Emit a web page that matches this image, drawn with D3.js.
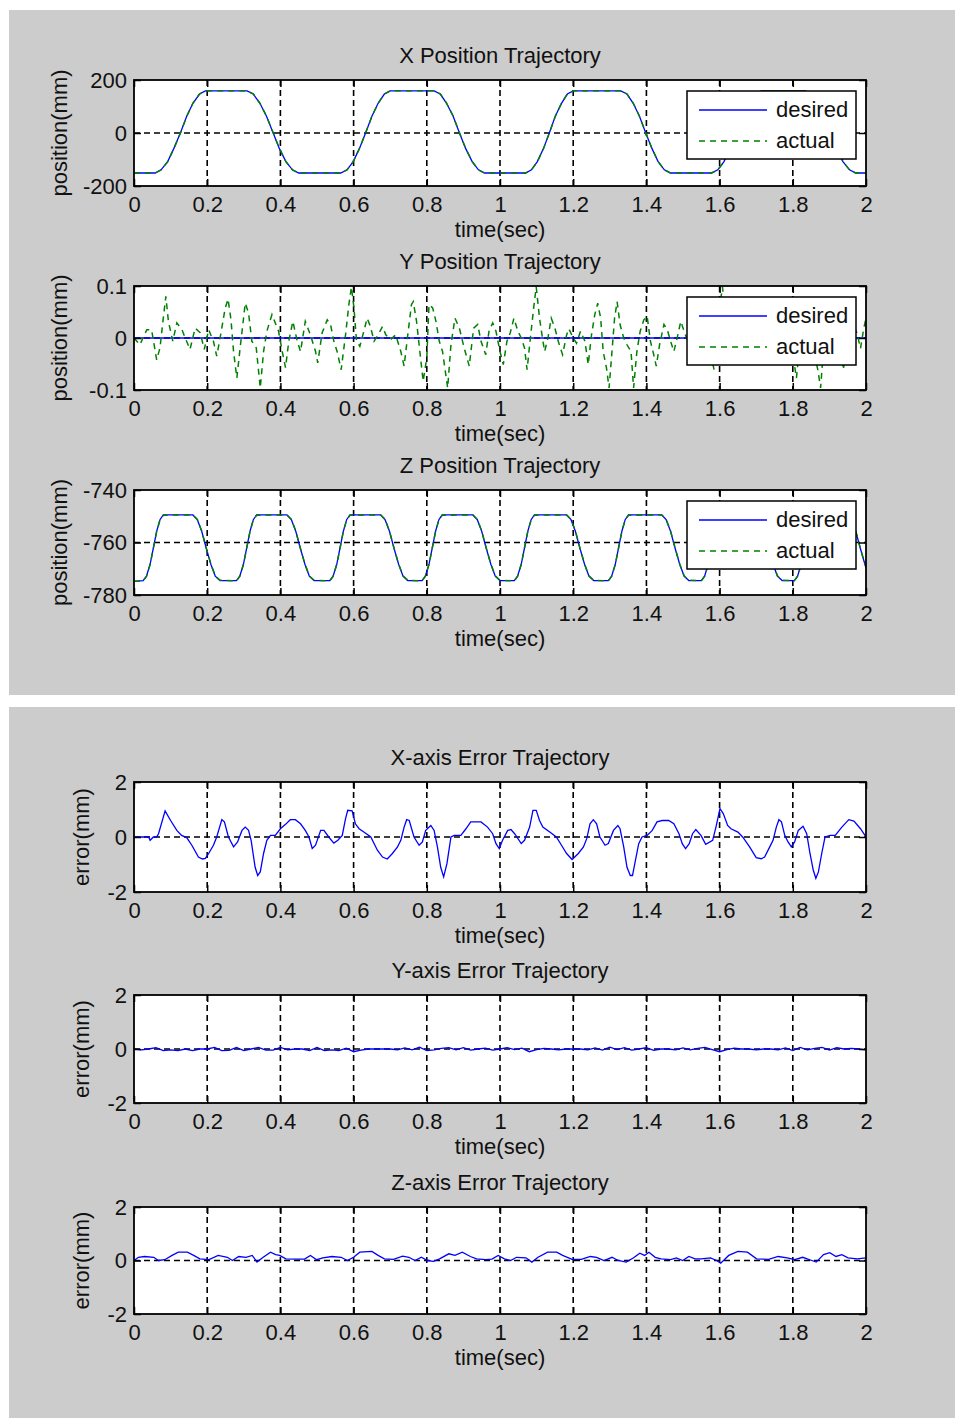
<!DOCTYPE html>
<html>
<head>
<meta charset="utf-8">
<script src="https://cdn.jsdelivr.net/npm/d3@7"></script>
<style>
  html, body { margin: 0; padding: 0; background: #ffffff; }
  svg { display: block; }
  text { font-family: "Liberation Sans", Arial, Helvetica, sans-serif; fill: #111; }
</style>
</head>
<body>
<svg id="chart" width="963" height="1427"></svg>
<script>
// ---------------- DATA ----------------
const xTickValues = [0, 0.2, 0.4, 0.6, 0.8, 1, 1.2, 1.4, 1.6, 1.8, 2];
const xTickLabels = ["0", "0.2", "0.4", "0.6", "0.8", "1", "1.2", "1.4", "1.6", "1.8", "2"];

const posXTicks = [-200, 0, 200];
const posXTickLabels = ["-200", "0", "200"];
const posYTicks = [-0.1, 0, 0.1];
const posYTickLabels = ["-0.1", "0", "0.1"];
const posZTicks = [-780, -760, -740];
const posZTickLabels = ["-780", "-760", "-740"];
const errTicks = [-2, 0, 2];
const errTickLabels = ["-2", "0", "2"];

const legendLabels = ["desired", "actual"];

// X position trajectory (time in s, value in mm)
const xPosTime = [0, 0.058, 0.074, 0.092, 0.109, 0.127, 0.144, 0.161, 0.179, 0.195,
  0.309, 0.326, 0.344, 0.362, 0.380, 0.397, 0.415, 0.433, 0.450,
  0.565, 0.582, 0.599, 0.616, 0.633, 0.650, 0.667, 0.684, 0.700,
  0.820, 0.837, 0.854, 0.872, 0.889, 0.906, 0.924, 0.941, 0.958,
  1.070, 1.086, 1.102, 1.119, 1.135, 1.151, 1.168, 1.184, 1.200,
  1.330, 1.347, 1.364, 1.381, 1.398, 1.415, 1.432, 1.449, 1.466,
  1.578, 1.595, 1.612, 1.629, 1.647, 1.664, 1.681, 1.698, 1.715,
  1.833, 1.850, 1.868, 1.885, 1.903, 1.920, 1.937, 1.955, 1.972, 2.0];
const xPosDesired = [-151, -151, -139, -108, -58, 1, 63, 112, 147, 159,
  159, 147, 112, 63, 1, -58, -108, -139, -151,
  -151, -139, -108, -58, 1, 63, 112, 147, 159,
  159, 147, 112, 63, 1, -58, -108, -139, -151,
  -151, -139, -108, -58, 1, 63, 112, 147, 159,
  159, 147, 112, 63, 1, -58, -108, -139, -151,
  -151, -139, -108, -58, 1, 63, 112, 147, 159,
  159, 147, 112, 63, 1, -58, -108, -139, -151, -151];
const xPosActual = [-151, -151, -139.2, -108.5, -58.6, 0.4, 62.5, 112.3, 147.2, 159,
  159, 147.3, 112.4, 63.5, 1.6, -57.3, -107.6, -139.2, -151,
  -151, -139.1, -108.4, -58.5, 0.6, 62.6, 112.2, 147.1, 159,
  159, 147.2, 112.5, 63.6, 1.5, -57.5, -107.7, -139.1, -151,
  -151, -139.2, -108.6, -58.7, 0.5, 62.4, 112.1, 147.2, 159,
  159, 147.3, 112.6, 63.5, 1.4, -57.4, -107.6, -139.2, -151,
  -151, -139.1, -108.5, -58.6, 0.5, 62.5, 112.3, 147.1, 159,
  159, 147.2, 112.4, 63.4, 1.5, -57.5, -107.7, -139.1, -151, -151];

// Y position trajectory
const yPosDesiredTime = [0, 2];
const yPosDesired = [0, 0];
const yPosActualTime = [0.000, 0.016, 0.035, 0.048, 0.062, 0.071, 0.079, 0.087, 0.094, 0.106,
  0.117, 0.131, 0.140, 0.153, 0.167, 0.181, 0.192, 0.204, 0.217, 0.226,
  0.236, 0.249, 0.257, 0.265, 0.272, 0.281, 0.290, 0.304, 0.313, 0.322,
  0.334, 0.345, 0.354, 0.363, 0.377, 0.386, 0.395, 0.405, 0.414, 0.423,
  0.434, 0.446, 0.455, 0.468, 0.482, 0.496, 0.502, 0.514, 0.528, 0.537,
  0.546, 0.555, 0.566, 0.578, 0.587, 0.594, 0.601, 0.608, 0.617, 0.628,
  0.637, 0.646, 0.656, 0.667, 0.679, 0.688, 0.701, 0.715, 0.729, 0.738,
  0.747, 0.758, 0.763, 0.772, 0.781, 0.790, 0.800, 0.806, 0.816, 0.825,
  0.834, 0.843, 0.857, 0.866, 0.877, 0.889, 0.902, 0.916, 0.928, 0.939,
  0.948, 0.961, 0.970, 0.980, 0.989, 1.000, 1.009, 1.019, 1.028, 1.038,
  1.049, 1.058, 1.067, 1.074, 1.083, 1.093, 1.099, 1.108, 1.116, 1.122,
  1.131, 1.140, 1.150, 1.159, 1.171, 1.182, 1.188, 1.200, 1.209, 1.220,
  1.232, 1.241, 1.250, 1.259, 1.267, 1.275, 1.282, 1.291, 1.298, 1.306,
  1.313, 1.320, 1.328, 1.338, 1.347, 1.358, 1.365, 1.374, 1.383, 1.393,
  1.402, 1.411, 1.420, 1.427, 1.436, 1.448, 1.457, 1.466, 1.475, 1.484,
  1.494, 1.503, 1.515, 1.528, 1.540, 1.552, 1.563, 1.575, 1.585, 1.594,
  1.602, 1.608, 1.616, 1.626, 1.638, 1.650, 1.662, 1.675, 1.688, 1.700,
  1.712, 1.724, 1.736, 1.748, 1.760, 1.772, 1.783, 1.795, 1.803, 1.810,
  1.818, 1.828, 1.838, 1.848, 1.858, 1.868, 1.876, 1.885, 1.895, 1.905,
  1.915, 1.925, 1.939, 1.950, 1.962, 1.975, 1.985, 1.994, 2.000];
const yPosActual = [0.000, -0.013, 0.016, 0.016, -0.042, -0.019, 0.032, 0.080, 0.032, -0.006,
  0.029, 0.016, 0.000, -0.022, 0.019, 0.010, -0.022, 0.016, -0.006, -0.035,
  0.003, 0.057, 0.075, 0.035, -0.026, -0.077, -0.019, 0.067, 0.048, -0.006,
  -0.019, -0.096, -0.026, 0.013, 0.045, 0.029, 0.013, -0.026, -0.057, -0.006,
  0.032, -0.006, -0.026, 0.032, 0.006, -0.026, -0.048, 0.010, 0.035, 0.026,
  -0.006, -0.026, -0.061, 0.006, 0.064, 0.098, 0.058, -0.006, -0.016, 0.013,
  0.038, 0.022, -0.006, 0.006, 0.022, 0.006, -0.003, 0.006, -0.026, -0.054,
  0.000, 0.064, 0.070, 0.032, -0.026, -0.083, -0.038, 0.064, 0.058, 0.032,
  -0.006, -0.026, -0.096, -0.013, 0.038, 0.019, -0.019, -0.054, 0.019, 0.026,
  -0.006, -0.032, 0.013, 0.029, 0.013, -0.026, -0.051, -0.006, 0.010, 0.038,
  0.013, 0.000, -0.019, -0.061, 0.000, 0.064, 0.098, 0.038, 0.000, -0.026,
  0.000, 0.038, 0.019, -0.006, -0.032, 0.006, 0.018, 0.000, -0.010, 0.013,
  -0.006, -0.051, 0.006, 0.045, 0.067, 0.038, -0.026, -0.058, -0.096, -0.026,
  0.038, 0.070, 0.026, 0.000, -0.013, -0.026, -0.096, -0.026, 0.013, 0.035,
  0.042, -0.006, -0.032, -0.054, -0.013, 0.026, 0.016, -0.006, -0.026, 0.000,
  0.032, 0.013, -0.010, 0.025, -0.020, 0.030, 0.010, -0.030, -0.061, 0.010,
  0.070, 0.098, 0.030, -0.020, 0.020, -0.030, 0.030, 0.000, -0.035, 0.025,
  0.040, -0.010, -0.040, 0.020, 0.050, 0.010, -0.030, 0.000, -0.045, -0.077,
  -0.020, 0.040, 0.050, 0.010, -0.030, -0.060, -0.096, -0.010, 0.040, 0.060,
  0.020, -0.030, -0.057, 0.000, 0.030, 0.010, -0.020, 0.019, 0.038];

// Z position trajectory
const zPosTime = [0,
  0.025, 0.034, 0.044, 0.053, 0.062, 0.071, 0.080,
  0.161, 0.173, 0.185, 0.197, 0.210, 0.222, 0.235,
  0.280, 0.289, 0.299, 0.308, 0.317, 0.326, 0.335,
  0.418, 0.430, 0.442, 0.454, 0.467, 0.479, 0.492,
  0.535, 0.544, 0.554, 0.563, 0.572, 0.581, 0.590,
  0.674, 0.686, 0.698, 0.710, 0.723, 0.735, 0.748,
  0.787, 0.796, 0.806, 0.815, 0.824, 0.833, 0.842,
  0.926, 0.938, 0.950, 0.962, 0.975, 0.987, 1.000,
  1.039, 1.048, 1.058, 1.067, 1.076, 1.085, 1.094,
  1.182, 1.194, 1.206, 1.218, 1.231, 1.243, 1.256,
  1.296, 1.305, 1.315, 1.324, 1.333, 1.342, 1.351,
  1.442, 1.454, 1.466, 1.478, 1.491, 1.503, 1.516,
  1.550, 1.559, 1.569, 1.578, 1.587, 1.596, 1.605,
  1.697, 1.709, 1.721, 1.733, 1.746, 1.758, 1.771,
  1.804, 1.813, 1.823, 1.832, 1.841, 1.850, 1.859,
  1.948, 1.960, 1.972, 1.984, 1.997, 2.000];
const zPosDesired = [-774.8,
  -774.5, -772.8, -768.3, -762, -755.7, -751.3, -749.5,
  -749.5, -751.3, -755.7, -762, -768.3, -772.8, -774.5,
  -774.5, -772.8, -768.3, -762, -755.7, -751.3, -749.5,
  -749.5, -751.3, -755.7, -762, -768.3, -772.8, -774.5,
  -774.5, -772.8, -768.3, -762, -755.7, -751.3, -749.5,
  -749.5, -751.3, -755.7, -762, -768.3, -772.8, -774.5,
  -774.5, -772.8, -768.3, -762, -755.7, -751.3, -749.5,
  -749.5, -751.3, -755.7, -762, -768.3, -772.8, -774.5,
  -774.5, -772.8, -768.3, -762, -755.7, -751.3, -749.5,
  -749.5, -751.3, -755.7, -762, -768.3, -772.8, -774.5,
  -774.5, -772.8, -768.3, -762, -755.7, -751.3, -749.5,
  -749.5, -751.3, -755.7, -762, -768.3, -772.8, -774.5,
  -774.5, -772.8, -768.3, -762, -755.7, -751.3, -749.5,
  -749.5, -751.3, -755.7, -762, -768.3, -772.8, -774.5,
  -774.5, -772.8, -768.3, -762, -755.7, -751.3, -749.5,
  -749.5, -751.3, -755.7, -762, -768.3, -769.5];
const zPosActual = [-774.8,
  -774.6, -772.9, -768.4, -762.1, -755.8, -751.4, -749.6,
  -749.5, -751.2, -755.6, -761.9, -768.2, -772.7, -774.4,
  -774.6, -772.9, -768.4, -762.1, -755.8, -751.4, -749.6,
  -749.5, -751.2, -755.6, -761.9, -768.2, -772.7, -774.4,
  -774.6, -772.9, -768.4, -762.1, -755.8, -751.4, -749.6,
  -749.5, -751.2, -755.6, -761.9, -768.2, -772.7, -774.4,
  -774.6, -772.9, -768.4, -762.1, -755.8, -751.4, -749.6,
  -749.5, -751.2, -755.6, -761.9, -768.2, -772.7, -774.4,
  -774.6, -772.9, -768.4, -762.1, -755.8, -751.4, -749.6,
  -749.5, -751.2, -755.6, -761.9, -768.2, -772.7, -774.4,
  -774.6, -772.9, -768.4, -762.1, -755.8, -751.4, -749.6,
  -749.5, -751.2, -755.6, -761.9, -768.2, -772.7, -774.4,
  -774.6, -772.9, -768.4, -762.1, -755.8, -751.4, -749.6,
  -749.5, -751.2, -755.6, -761.9, -768.2, -772.7, -774.4,
  -774.6, -772.9, -768.4, -762.1, -755.8, -751.4, -749.6,
  -749.5, -751.2, -755.6, -761.9, -768.2, -769.4];

// X-axis error trajectory
const xErrTime = [0.000, 0.040, 0.044, 0.053, 0.062, 0.067, 0.085, 0.100, 0.117, 0.130,
  0.144, 0.158, 0.176, 0.187, 0.195, 0.204, 0.217, 0.226, 0.240, 0.247,
  0.258, 0.272, 0.283, 0.295, 0.304, 0.313, 0.320, 0.331, 0.338, 0.345,
  0.354, 0.363, 0.373, 0.386, 0.400, 0.414, 0.427, 0.441, 0.455, 0.468,
  0.478, 0.487, 0.496, 0.510, 0.519, 0.532, 0.546, 0.557, 0.569, 0.578,
  0.584, 0.596, 0.605, 0.615, 0.628, 0.647, 0.665, 0.679, 0.692, 0.706,
  0.720, 0.729, 0.738, 0.745, 0.752, 0.765, 0.779, 0.788, 0.797, 0.811,
  0.820, 0.829, 0.838, 0.846, 0.855, 0.866, 0.875, 0.893, 0.907, 0.920,
  0.948, 0.966, 0.980, 0.989, 0.998, 1.007, 1.021, 1.030, 1.040, 1.058,
  1.067, 1.081, 1.090, 1.099, 1.108, 1.117, 1.136, 1.154, 1.168, 1.182,
  1.197, 1.214, 1.228, 1.237, 1.246, 1.255, 1.264, 1.273, 1.287, 1.296,
  1.310, 1.322, 1.328, 1.338, 1.347, 1.356, 1.362, 1.370, 1.379, 1.388,
  1.402, 1.416, 1.429, 1.443, 1.461, 1.475, 1.489, 1.498, 1.507, 1.517,
  1.526, 1.535, 1.549, 1.562, 1.581, 1.590, 1.601, 1.610, 1.622, 1.631,
  1.650, 1.663, 1.682, 1.700, 1.714, 1.723, 1.737, 1.746, 1.755, 1.762,
  1.769, 1.778, 1.787, 1.796, 1.805, 1.815, 1.828, 1.838, 1.847, 1.856,
  1.863, 1.870, 1.879, 1.888, 1.902, 1.916, 1.934, 1.953, 1.967, 1.985,
  2.000];
const xErrValue = [0.00, 0.00, -0.12, 0.00, 0.00, 0.12, 0.95, 0.60, 0.24, 0.06,
  -0.02, -0.30, -0.73, -0.80, -0.78, -0.60, -0.30, 0.00, 0.63, 0.55,
  0.00, -0.36, -0.18, 0.24, 0.36, 0.24, -0.12, -1.10, -1.40, -1.27,
  -0.60, -0.12, 0.06, 0.06, 0.30, 0.46, 0.63, 0.63, 0.48, 0.24,
  0.00, -0.42, -0.30, 0.24, 0.24, 0.00, -0.22, -0.12, 0.06, 0.67,
  0.97, 0.95, 0.48, 0.30, 0.18, 0.00, -0.48, -0.73, -0.80, -0.60,
  -0.36, -0.12, 0.36, 0.63, 0.60, 0.00, -0.30, -0.18, 0.24, 0.42,
  0.24, -0.36, -1.10, -1.45, -0.97, 0.00, 0.06, 0.06, 0.30, 0.55,
  0.55, 0.36, 0.12, -0.24, -0.42, -0.12, 0.24, 0.27, 0.12, -0.24,
  -0.12, 0.36, 0.97, 0.97, 0.60, 0.36, 0.18, 0.00, -0.30, -0.60,
  -0.82, -0.60, -0.36, -0.06, 0.48, 0.63, 0.48, 0.00, -0.30, -0.24,
  0.24, 0.42, 0.30, -0.36, -1.10, -1.40, -1.40, -0.85, -0.24, 0.00,
  0.06, 0.24, 0.55, 0.60, 0.60, 0.48, 0.12, -0.24, -0.42, -0.24,
  0.12, 0.27, 0.06, -0.27, -0.12, 0.36, 1.03, 0.85, 0.42, 0.30,
  0.18, 0.00, -0.36, -0.75, -0.79, -0.73, -0.36, -0.12, 0.36, 0.63,
  0.55, 0.06, -0.18, -0.36, -0.18, 0.24, 0.39, 0.12, -0.60, -1.21,
  -1.50, -1.27, -0.60, 0.00, 0.06, 0.06, 0.36, 0.63, 0.58, 0.30,
  0.00];

// Y-axis error trajectory (every 0.02 s)
const yErrTime = d3.range(0, 101).map(i => +(i * 0.02).toFixed(2));
const yErrValue = [0.00, -0.03, 0.00, 0.05, -0.06, -0.03, -0.06, 0.00, -0.06, 0.00,
  0.00, 0.06, -0.06, -0.05, 0.06, -0.06, 0.00, 0.06, -0.04, -0.04,
  0.06, -0.03, 0.00, 0.00, -0.06, 0.06, -0.06, -0.03, -0.06, 0.03,
  -0.10, -0.04, 0.00, 0.00, 0.00, 0.00, -0.03, 0.04, -0.03, 0.07,
  -0.06, -0.03, 0.02, 0.05, -0.03, 0.05, -0.04, 0.00, 0.03, -0.04,
  0.00, 0.05, -0.02, 0.03, -0.10, -0.02, 0.02, 0.00, -0.03, 0.00,
  0.00, 0.00, -0.03, 0.04, -0.04, 0.07, -0.02, 0.05, -0.04, 0.00,
  0.05, -0.05, 0.00, 0.00, -0.03, 0.04, -0.03, 0.02, 0.06, -0.02,
  -0.10, -0.02, 0.03, 0.00, 0.00, -0.03, 0.00, 0.00, -0.03, 0.04,
  -0.06, 0.06, -0.03, 0.02, 0.06, -0.04, 0.05, 0.00, 0.02, 0.00,
  -0.03];

// Z-axis error trajectory
const zErrTime = [0.000, 0.012, 0.029, 0.054, 0.067, 0.084, 0.104, 0.121, 0.146, 0.163,
  0.180, 0.205, 0.230, 0.255, 0.269, 0.286, 0.306, 0.323, 0.336, 0.353,
  0.373, 0.387, 0.398, 0.415, 0.440, 0.466, 0.482, 0.499, 0.516, 0.541,
  0.566, 0.583, 0.600, 0.617, 0.650, 0.667, 0.684, 0.709, 0.734, 0.751,
  0.768, 0.785, 0.802, 0.818, 0.835, 0.860, 0.877, 0.897, 0.919, 0.936,
  0.961, 0.978, 0.995, 1.012, 1.029, 1.045, 1.071, 1.087, 1.104, 1.130,
  1.155, 1.171, 1.197, 1.222, 1.247, 1.264, 1.284, 1.306, 1.323, 1.345,
  1.365, 1.382, 1.395, 1.407, 1.424, 1.440, 1.466, 1.482, 1.499, 1.516,
  1.533, 1.550, 1.575, 1.592, 1.603, 1.625, 1.650, 1.676, 1.701, 1.734,
  1.760, 1.785, 1.805, 1.827, 1.852, 1.864, 1.884, 1.901, 1.918, 1.934,
  1.951, 1.976, 2.000];
const zErrValue = [0.00, 0.12, 0.15, 0.12, 0.00, 0.03, 0.19, 0.31, 0.31, 0.19,
  0.06, 0.03, 0.19, 0.12, 0.00, 0.15, 0.12, 0.19, -0.06, 0.12,
  0.31, 0.22, 0.19, 0.06, 0.05, 0.05, 0.19, 0.03, 0.10, 0.15,
  0.12, 0.00, 0.12, 0.31, 0.34, 0.19, 0.06, 0.04, 0.16, 0.12,
  0.00, 0.12, 0.00, -0.03, 0.06, 0.25, 0.19, 0.31, 0.15, 0.06,
  0.03, 0.05, 0.19, 0.06, 0.00, 0.12, 0.10, -0.06, 0.12, 0.31,
  0.31, 0.19, 0.04, 0.04, 0.15, 0.12, 0.00, 0.12, 0.00, -0.06,
  0.10, 0.27, 0.19, 0.31, 0.12, 0.06, 0.03, 0.10, 0.00, 0.15,
  0.06, 0.06, 0.10, 0.00, -0.10, 0.19, 0.34, 0.31, 0.06, 0.04,
  0.15, 0.10, 0.03, 0.12, 0.00, -0.06, 0.22, 0.29, 0.15, 0.22,
  0.10, 0.06, 0.10];

// ---------------- DRAWING ----------------
const svg = d3.select("#chart");
const FONT = 22;
const BLUE = "#0000ff";
const GREEN = "#008000";
const AX_L = 134, AX_R = 866;

// figure backgrounds
svg.append("rect").attr("x", 9).attr("y", 10).attr("width", 946).attr("height", 685).attr("fill", "#cccccc");
svg.append("rect").attr("x", 9).attr("y", 707).attr("width", 946).attr("height", 711).attr("fill", "#cccccc");

const zip = (t, v) => t.map((d, i) => [d, v[i]]);

const panels = [
  { top: 80, bottom: 186, title: "X Position Trajectory", ylabel: "position(mm)", ylx: 67,
    domain: [-200, 200], ticks: posXTicks, labels: posXTickLabels, legend: true,
    series: [ { data: zip(xPosTime, xPosDesired), color: BLUE, dash: null },
              { data: zip(xPosTime, xPosActual), color: GREEN, dash: "6,5" } ] },
  { top: 286, bottom: 390, title: "Y Position Trajectory", ylabel: "position(mm)", ylx: 67,
    domain: [-0.1, 0.1], ticks: posYTicks, labels: posYTickLabels, legend: true,
    series: [ { data: zip(yPosDesiredTime, yPosDesired), color: BLUE, dash: null },
              { data: zip(yPosActualTime, yPosActual), color: GREEN, dash: "6,5" } ] },
  { top: 490, bottom: 595, title: "Z Position Trajectory", ylabel: "position(mm)", ylx: 67,
    domain: [-780, -740], ticks: posZTicks, labels: posZTickLabels, legend: true,
    series: [ { data: zip(zPosTime, zPosDesired), color: BLUE, dash: null },
              { data: zip(zPosTime, zPosActual), color: GREEN, dash: "6,5" } ] },
  { top: 782, bottom: 892, title: "X-axis Error Trajectory", ylabel: "error(mm)", ylx: 89,
    domain: [-2, 2], ticks: errTicks, labels: errTickLabels, legend: false,
    series: [ { data: zip(xErrTime, xErrValue), color: BLUE, dash: null } ] },
  { top: 995, bottom: 1103, title: "Y-axis Error Trajectory", ylabel: "error(mm)", ylx: 89,
    domain: [-2, 2], ticks: errTicks, labels: errTickLabels, legend: false,
    series: [ { data: zip(yErrTime, yErrValue), color: BLUE, dash: null } ] },
  { top: 1207, bottom: 1314, title: "Z-axis Error Trajectory", ylabel: "error(mm)", ylx: 89,
    domain: [-2, 2], ticks: errTicks, labels: errTickLabels, legend: false,
    series: [ { data: zip(zErrTime, zErrValue), color: BLUE, dash: null } ] }
];

panels.forEach((p, pi) => {
  const x = d3.scaleLinear().domain([0, 2]).range([AX_L, AX_R]);
  const y = d3.scaleLinear().domain(p.domain).range([p.bottom, p.top]);
  const g = svg.append("g");
  const clipId = "clip" + pi;
  g.append("clipPath").attr("id", clipId).append("rect")
    .attr("x", AX_L).attr("y", p.top).attr("width", AX_R - AX_L).attr("height", p.bottom - p.top);

  // plot background
  g.append("rect").attr("x", AX_L).attr("y", p.top).attr("width", AX_R - AX_L)
    .attr("height", p.bottom - p.top).attr("fill", "#ffffff");

  // grid
  const grid = g.append("g").attr("stroke", "#000").attr("stroke-width", 1.6).attr("stroke-dasharray", "6,4");
  grid.selectAll("line.vg").data(xTickValues.slice(1, -1)).join("line")
    .attr("x1", d => x(d)).attr("x2", d => x(d)).attr("y1", p.top).attr("y2", p.bottom);
  grid.selectAll("line.hg").data(p.ticks.slice(1, -1)).join("line")
    .attr("x1", AX_L).attr("x2", AX_R).attr("y1", d => y(d)).attr("y2", d => y(d));

  // lines
  const line = d3.line().x(d => x(d[0])).y(d => y(d[1]));
  const lg = g.append("g").attr("clip-path", `url(#${clipId})`);
  p.series.forEach(s => {
    lg.append("path").datum(s.data).attr("d", line).attr("fill", "none")
      .attr("stroke", s.color).attr("stroke-width", s.dash ? 1.5 : 1.3)
      .attr("stroke-dasharray", s.dash);
  });

  // axes
  const xAxis = d3.axisBottom(x).tickValues(xTickValues).tickSize(-7).tickPadding(10.5)
    .tickFormat((d, i) => xTickLabels[i]);
  const ga = g.append("g").attr("transform", `translate(0,${p.bottom})`).call(xAxis);
  const xTop = d3.axisTop(x).tickValues(xTickValues).tickSize(-7).tickFormat("");
  const gt = g.append("g").attr("transform", `translate(0,${p.top})`).call(xTop);
  const yAxis = d3.axisLeft(y).tickValues(p.ticks).tickSize(-7).tickPadding(7)
    .tickFormat((d, i) => p.labels[i]);
  const gy = g.append("g").attr("transform", `translate(${AX_L},0)`).call(yAxis);
  const yRight = d3.axisRight(y).tickValues(p.ticks).tickSize(-7).tickFormat("");
  const gr = g.append("g").attr("transform", `translate(${AX_R},0)`).call(yRight);
  [ga, gt, gy, gr].forEach(a => {
    a.select(".domain").remove();
    a.selectAll(".tick line").attr("stroke", "#000").attr("stroke-width", 1.5);
    a.selectAll("text").attr("font-size", FONT).attr("font-family", "Liberation Sans, Arial, sans-serif").attr("fill", "#111");
  });

  // box
  g.append("rect").attr("x", AX_L).attr("y", p.top).attr("width", AX_R - AX_L)
    .attr("height", p.bottom - p.top).attr("fill", "none").attr("stroke", "#000").attr("stroke-width", 1.8);

  // title & labels
  g.append("text").attr("x", (AX_L + AX_R) / 2).attr("y", p.top - 17.5)
    .attr("text-anchor", "middle").attr("font-size", FONT).text(p.title);
  g.append("text").attr("x", (AX_L + AX_R) / 2).attr("y", p.bottom + 51)
    .attr("text-anchor", "middle").attr("font-size", FONT).text("time(sec)");
  g.append("text").attr("transform", `translate(${p.ylx},${(p.top + p.bottom) / 2}) rotate(-90)`)
    .attr("text-anchor", "middle").attr("font-size", FONT).text(p.ylabel);

  // legend
  if (p.legend) {
    const lx = AX_R - 10 - 169, ly = p.top + 11;
    const leg = g.append("g");
    leg.append("rect").attr("x", lx).attr("y", ly).attr("width", 169).attr("height", 68)
      .attr("fill", "#ffffff").attr("stroke", "#000").attr("stroke-width", 1.5);
    p.series.forEach((s, i) => {
      const yy = ly + 19 + i * 31;
      leg.append("line").attr("x1", lx + 12).attr("x2", lx + 80).attr("y1", yy).attr("y2", yy)
        .attr("stroke", s.color).attr("stroke-width", 1.5).attr("stroke-dasharray", s.dash);
      leg.append("text").attr("x", lx + 89).attr("y", yy + 7).attr("font-size", FONT).text(legendLabels[i]);
    });
  }
});
</script>
</body>
</html>
